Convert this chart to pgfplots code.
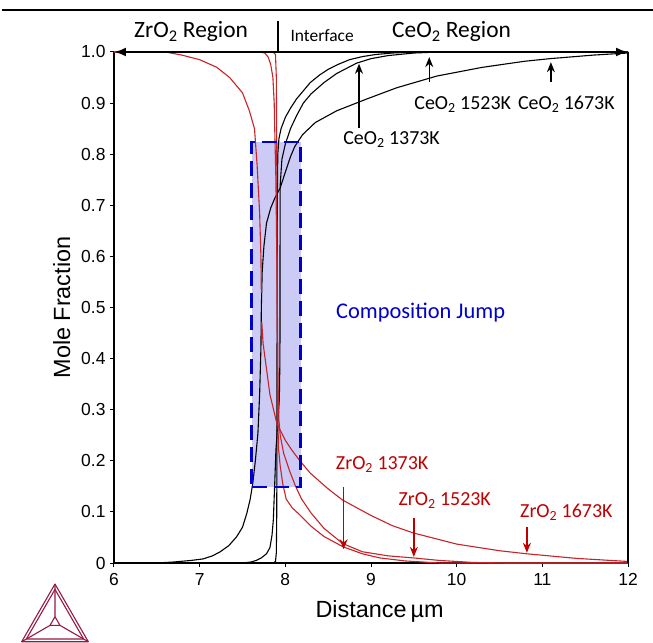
\documentclass[border=0pt]{standalone}
\usepackage{fontspec}
\setmainfont{Liberation Sans}
\newfontfamily\calib{Carlito}
\usepackage{pgfplots}
\pgfplotsset{compat=1.18}
\usetikzlibrary{arrows.meta,calc}
\definecolor{zr}{RGB}{200,35,40}
\definecolor{zrtext}{RGB}{192,0,0}
\definecolor{jump}{RGB}{0,0,205}
\definecolor{jumpfill}{RGB}{200,200,245}
\definecolor{logo}{RGB}{150,25,65}
\begin{document}
\begin{tikzpicture}
\useasboundingbox (-114bp,-80bp) rectangle (539bp,563bp);
\begin{axis}[at={(0,0)}, anchor=south west,
  width=514bp, height=511bp, scale only axis,
  xmin=6, xmax=12, ymin=0, ymax=1,
  axis x line*=bottom, axis y line*=left,
  xtick={6,7,8,9,10,11,12},
  ytick={0,0.1,0.2,0.3,0.4,0.5,0.6,0.7,0.8,0.9,1.0},
  yticklabels={0,0.1,0.2,0.3,0.4,0.5,0.6,0.7,0.8,0.9,1.0},
  tick align=outside, major tick length=4bp,
  tick style={black, line width=1bp},
  axis line style={line width=1.2bp},
  tick label style={font=\fontsize{17.5}{18}\selectfont},
  xticklabel style={font=\fontsize{17.5}{18}\selectfont, yshift=-3bp},
  yticklabel style={font=\fontsize{17.5}{18}\selectfont, xshift=-1bp},
  /pgf/number format/assume math mode=true,
  clip=false]

% composition jump box fill
\addplot[draw=none, fill=jumpfill, fill opacity=0.95] coordinates {(7.607,0.149) (8.18,0.149) (8.18,0.824) (7.607,0.824)} --cycle;

% CeO2 curves (black)
\addplot[black, line width=1.1bp] coordinates {(6,0)(7.86,0)(7.885,0.003)(7.895,0.02)(7.9,0.1)(7.903,0.4)(7.906,0.7)(7.912,0.8)(7.925,0.83)(7.95,0.85)(8.0,0.872)(8.06,0.89)(8.13,0.908)(8.2,0.922)(8.29,0.94)(8.4,0.955)(8.5,0.966)(8.62,0.976)(8.75,0.985)(8.9,0.991)(9.05,0.995)(9.25,0.998)(9.5,1)(12,1)};
\addplot[black, line width=1.1bp] coordinates {(6,0)(7.5,0)(7.6,0.002)(7.66,0.005)(7.72,0.01)(7.78,0.018)(7.82,0.03)(7.845,0.055)(7.86,0.085)(7.875,0.15)(7.89,0.22)(7.91,0.27)(7.93,0.32)(7.937,0.4)(7.938,0.6)(7.94,0.74)(7.96,0.79)(8.0,0.82)(8.06,0.85)(8.13,0.875)(8.21,0.9)(8.3,0.918)(8.45,0.94)(8.6,0.958)(8.83,0.978)(9.0,0.987)(9.2,0.993)(9.5,0.998)(9.8,1)(12,1)};
\addplot[black, line width=1.1bp] coordinates {(6,0)(6.5,0)(6.7,0.002)(6.9,0.005)(7.04,0.008)(7.15,0.014)(7.24,0.022)(7.34,0.034)(7.43,0.051)(7.5,0.07)(7.55,0.097)(7.59,0.125)(7.62,0.156)(7.65,0.2)(7.68,0.254)(7.70,0.33)(7.715,0.42)(7.72,0.5)(7.73,0.57)(7.75,0.62)(7.78,0.665)(7.83,0.695)(7.88,0.715)(7.94,0.734)(8.0,0.765)(8.06,0.795)(8.11,0.815)(8.2,0.838)(8.35,0.862)(8.6,0.885)(8.95,0.908)(9.3,0.93)(9.77,0.953)(10.3,0.97)(10.8,0.982)(11.09,0.987)(11.6,0.994)(12,0.998)};

% ZrO2 curves (red)
\addplot[zr, line width=1.1bp] coordinates {(6,1)(6.6,1)(6.79,0.994)(7.0,0.985)(7.2,0.97)(7.35,0.95)(7.5,0.92)(7.58,0.885)(7.64,0.85)(7.67,0.78)(7.70,0.685)(7.715,0.6)(7.72,0.528)};
\addplot[zr, line width=1.1bp] coordinates {(7.725,0.472)(7.74,0.43)(7.78,0.38)(7.82,0.33)(7.9,0.274)(8.0,0.24)(8.08,0.22)(8.17,0.2)(8.29,0.176)(8.5,0.145)(8.67,0.123)(9.0,0.093)(9.25,0.073)(9.49,0.059)(10.0,0.037)(10.5,0.024)(10.82,0.018)(11.4,0.009)(12,0.003)};
\addplot[zr, line width=1.1bp] coordinates {(6,1)(7.7,1)(7.76,0.998)(7.8,0.99)(7.83,0.975)(7.855,0.95)(7.87,0.9)(7.88,0.82)(7.89,0.75)(7.9,0.6)(7.91,0.45)(7.915,0.35)(7.925,0.28)(7.94,0.25)(7.98,0.215)(8.05,0.18)(8.12,0.15)(8.19,0.125)(8.3,0.098)(8.45,0.068)(8.67,0.038)(8.9,0.022)(9.2,0.014)(9.49,0.01)(9.8,0.005)(10.2,0.001)(10.6,0)(12,0)};
\addplot[zr, line width=1.1bp] coordinates {(6,1)(7.86,1)(7.885,0.995)(7.895,0.95)(7.9,0.8)(7.905,0.5)(7.91,0.3)(7.92,0.225)(7.94,0.19)(7.97,0.155)(8.01,0.125)(8.08,0.108)(8.17,0.094)(8.3,0.072)(8.45,0.052)(8.67,0.032)(8.9,0.018)(9.1,0.01)(9.4,0.004)(9.8,0.0)(12,0)};

% composition jump box border
\addplot[jump, line width=2.6bp, dash pattern=on 15bp off 7bp] coordinates {(7.607,0.149) (8.18,0.149) (8.18,0.824) (7.607,0.824)} --cycle;

% right frame line and top double arrow
\draw[line width=1.2bp] (axis cs:12,0) -- (axis cs:12,1);
\draw[line width=2.2bp, {Latex[length=12bp,width=9bp]}-{Latex[length=12bp,width=9bp]}] (axis cs:6,1) -- (axis cs:12,1);
\draw[line width=2bp] (axis cs:7.92,1) -- (axis cs:7.92,1.06);

% region labels
\node[font=\calib\fontsize{23.5}{24}\selectfont] at (axis cs:6.9,1.04) {ZrO\textsubscript{2} Region};
\node[font=\calib\fontsize{17.5}{18}\selectfont, anchor=west] at (axis cs:8.02,1.033) {Interface};
\node[font=\calib\fontsize{23.5}{24}\selectfont] at (axis cs:9.94,1.04) {CeO\textsubscript{2} Region};

% CeO2 labels
\node[font=\calib\fontsize{20}{20}\selectfont] at (axis cs:9.24,0.828) {CeO\textsubscript{2} 1373K};
\draw[line width=1.4bp, -{Stealth[length=10bp,width=8bp]}] (axis cs:8.86,0.851) -- (axis cs:8.86,0.977);
\node[font=\calib\fontsize{20}{20}\selectfont] at (axis cs:10.07,0.898) {CeO\textsubscript{2} 1523K};
\draw[line width=1.4bp, -{Stealth[length=10bp,width=8bp]}] (axis cs:9.68,0.942) -- (axis cs:9.68,0.99);
\node[font=\calib\fontsize{20}{20}\selectfont] at (axis cs:11.28,0.898) {CeO\textsubscript{2} 1673K};
\draw[line width=1.4bp, -{Stealth[length=10bp,width=8bp]}] (axis cs:11.1,0.942) -- (axis cs:11.1,0.98);

% jump label
\node[font=\calib\fontsize{22.5}{23}\selectfont, text=jump] at (axis cs:9.58,0.491) {Composition Jump};

% ZrO2 labels
\node[font=\calib\fontsize{20}{20}\selectfont, text=zrtext] at (axis cs:9.13,0.192) {ZrO\textsubscript{2} 1373K};
\draw[zrtext, line width=1.4bp, -{Stealth[length=10bp,width=8bp]}] (axis cs:8.68,0.149) -- (axis cs:8.68,0.027);
\node[font=\calib\fontsize{20}{20}\selectfont, text=zrtext] at (axis cs:9.86,0.123) {ZrO\textsubscript{2} 1523K};
\draw[zrtext, line width=1.4bp, -{Stealth[length=10bp,width=8bp]}] (axis cs:9.5,0.088) -- (axis cs:9.5,0.012);
\node[font=\calib\fontsize{20}{20}\selectfont, text=zrtext] at (axis cs:11.28,0.1) {ZrO\textsubscript{2} 1673K};
\draw[zrtext, line width=1.4bp, -{Stealth[length=10bp,width=8bp]}] (axis cs:10.82,0.07) -- (axis cs:10.82,0.02);

% axis labels
\node[font=\fontsize{23.5}{24}\selectfont, rotate=90] at (axis cs:5.39,0.5) {Mole Fraction};
\node[font=\fontsize{23.5}{24}\selectfont] at (axis cs:9.1,-0.094) {Distance\,µm};
\end{axis}

% top rule
\draw[line width=2.4bp] (-112bp,553bp) -- (539bp,553bp);

% logo
\coordinate (A) at (-59bp,-21bp);
\coordinate (B) at (-92.3bp,-78.7bp);
\coordinate (C) at (-25.7bp,-78.7bp);
\coordinate (G) at (-59bp,-59.5bp);
\begin{scope}[logo, line width=1.1bp, line join=round]
\draw (A) -- (B) -- (C) -- cycle;
\coordinate (A1) at ($(G)!0.86!(A)$);
\coordinate (B1) at ($(G)!0.86!(B)$);
\coordinate (C1) at ($(G)!0.86!(C)$);
\draw (A1) -- (B1) -- (C1) -- cycle;
\coordinate (A2) at ($(G)!0.15!(A)$);
\coordinate (B2) at ($(G)!0.15!(B)$);
\coordinate (C2) at ($(G)!0.15!(C)$);
\draw (A2) -- (B2) -- (C2) -- cycle;
\draw (A1) -- (A2) (B1) -- (B2) (C1) -- (C2);
\draw (A) -- (A1) (B) -- (B1) (C) -- (C1);
\end{scope}
\end{tikzpicture}
\end{document}
